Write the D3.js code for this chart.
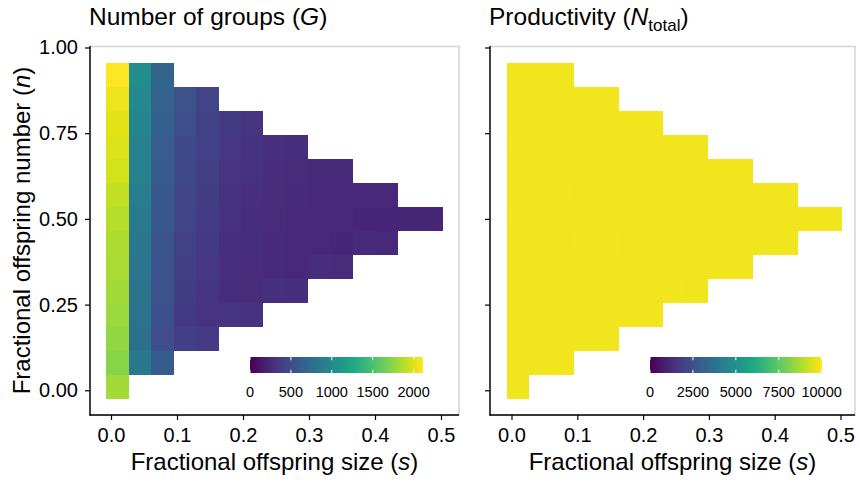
<!DOCTYPE html>
<html><head><meta charset="utf-8">
<script src="https://cdn.jsdelivr.net/npm/d3@7"></script>
<style>
body{margin:0;background:#fff}
text{font-family:"Liberation Sans",Arial,Helvetica,sans-serif;fill:#000}
</style>
</head><body>
<svg id="chart" width="860" height="482"></svg>
<script>
// ---- data ----
const sValues = [0.010,0.044,0.078,0.112,0.146,0.180,0.214,0.248,0.282,0.316,0.350,0.384,0.418,0.452,0.486];
const nValues = [0.01,0.08,0.15,0.22,0.29,0.36,0.43,0.50,0.57,0.64,0.71,0.78,0.85,0.92];
// index into nValues of the lowest cell in each column
const firstRow = [0,1,1,2,2,3,3,4,4,5,5,6,6,7,7];

// Number of groups (G), per column, bottom to top
const groupsG = [
  [1821,1728,1768,1798,1819,1838,1853,1882,1923,1969,2003,2024,2056,2112],
  [846,772,787,804,825,846,867,888,909,931,962,994,1036],
  [611,499,514,529,544,556,571,586,601,618,635,656,683],
  [381,355,372,389,406,423,440,459,478,501,529],
  [370,317,328,338,351,364,376,389,402,412,423],
  [330,275,283,292,300,311,321,336,355],
  [310,260,266,274,280,288,298,312,330],
  [292,248,252,258,264,272,292],
  [280,240,243,247,251,258,280],
  [266,234,236,240,256],
  [259,230,232,236,251],
  [248,228,236],
  [244,224,232],
  [228],
  [228]
];
// Productivity (N_total), per column, bottom to top
const productivityN = [
  [9790,9800,9790,9800,9800,9800,9800,9860,9800,9800,9860,9800,9790,9790],
  [9820,9800,9790,9800,9800,9800,9800,9800,9800,9800,9790,9790,9790],
  [9840,9800,9800,9800,9800,9800,9800,9850,9800,9800,9790,9790,9790],
  [9820,9800,9800,9800,9850,9800,9800,9800,9800,9790,9790],
  [9820,9800,9800,9800,9850,9800,9800,9800,9800,9790,9790],
  [9810,9800,9800,9800,9800,9800,9800,9800,9790],
  [9810,9800,9800,9800,9800,9800,9800,9800,9790],
  [9830,9800,9800,9800,9800,9800,9790],
  [9820,9800,9800,9800,9800,9800,9790],
  [9800,9790,9790,9790,9790],
  [9800,9790,9790,9790,9790],
  [9790,9790,9790],
  [9790,9790,9790],
  [9790],
  [9790]
];

const xTicks = [0,0.1,0.2,0.3,0.4,0.5];
const yTicks = [0,0.25,0.5,0.75,1.0];
const gBreaks = [0,500,1000,1500,2000];
const nBreaks = [0,2500,5000,7500,10000];
const gLimits = [0,2115];
const nLimits = [0,10020];

// ---- drawing ----
const svg = d3.select("#chart");
const tileW = 0.034, tileH = 0.07;
const font = '"Liberation Sans",Arial,Helvetica,sans-serif';

const defs = svg.append("defs");
const grad = defs.append("linearGradient").attr("id","vir").attr("x1","0%").attr("x2","100%");
d3.range(0,1.0001,0.05).forEach(t=>{
  grad.append("stop").attr("offset",(t*100)+"%").attr("stop-color",d3.interpolateViridis(t));
});

function panel(cfg){
  const x = d3.scaleLinear().domain([0,0.5]).range(cfg.xr);
  const y = d3.scaleLinear().domain([0,1]).range([390.3,47.5]);
  const color = d3.scaleSequential(d3.interpolateViridis).domain(cfg.limits);
  const g = svg.append("g");

  // panel border
  g.append("rect").attr("x",cfg.px[0]).attr("y",46.5)
    .attr("width",cfg.px[1]-cfg.px[0]).attr("height",415-46.5)
    .attr("fill","none").attr("stroke","#d6d6d6").attr("stroke-width",1.6);

  // cells
  const cells = [];
  sValues.forEach((s,i)=>{
    cfg.values[i].forEach((v,j)=>{
      cells.push({s:s, n:nValues[firstRow[i]+j], v:v});
    });
  });
  const R = Math.round;
  g.append("g").attr("shape-rendering","crispEdges").selectAll("rect").data(cells).join("rect")
    .attr("x",d=>R(x(d.s-tileW/2)))
    .attr("width",d=>R(x(d.s+tileW/2))-R(x(d.s-tileW/2)))
    .attr("y",d=>R(y(d.n+tileH/2)))
    .attr("height",d=>R(y(d.n-tileH/2))-R(y(d.n+tileH/2)))
    .attr("fill",d=>color(d.v));

  // axes
  const xa = g.append("g").attr("transform","translate(0,415)")
    .call(d3.axisBottom(x).tickValues(xTicks).tickSize(5).tickPadding(8).tickFormat(d3.format(".1f")));
  xa.select(".domain").remove();
  xa.selectAll("line").attr("stroke","#000").attr("stroke-width",1.2);
  xa.selectAll("text").attr("font-size",20).attr("font-family",font).attr("fill","#000");

  const ya = g.append("g").attr("transform",`translate(${cfg.px[0]},0)`)
    .call(d3.axisLeft(y).tickValues(yTicks).tickSize(5).tickPadding(7)
      .tickFormat(cfg.yLabels ? d3.format(".2f") : ()=>""));
  ya.select(".domain").remove();
  ya.selectAll("line").attr("stroke","#000").attr("stroke-width",1.2);
  ya.selectAll("text").attr("font-size",20).attr("font-family",font).attr("fill","#000");

  g.append("line").attr("x1",cfg.px[0]).attr("x2",cfg.px[0]).attr("y1",46).attr("y2",415.6)
    .attr("stroke","#000").attr("stroke-width",1.4);
  g.append("line").attr("x1",cfg.px[0]-0.7).attr("x2",cfg.px[1]).attr("y1",415).attr("y2",415)
    .attr("stroke","#000").attr("stroke-width",1.4);

  // x title
  const xt = g.append("text").attr("x",(cfg.px[0]+cfg.px[1])/2).attr("y",470)
    .attr("text-anchor","middle").attr("font-size",24);
  xt.append("tspan").text("Fractional offspring size (");
  xt.append("tspan").attr("font-style","italic").text("s");
  xt.append("tspan").text(")");

  // legend colorbar
  const lx = d3.scaleLinear().domain(cfg.limits).range(cfg.lr);
  const lg = g.append("g");
  lg.append("rect").attr("x",cfg.lr[0]).attr("y",357).attr("width",cfg.lr[1]-cfg.lr[0]).attr("height",16)
    .attr("fill","url(#vir)");
  cfg.breaks.forEach(b=>{
    lg.append("line").attr("x1",lx(b)).attr("x2",lx(b)).attr("y1",357).attr("y2",360.2)
      .attr("stroke","#fff").attr("stroke-width",1);
    lg.append("line").attr("x1",lx(b)).attr("x2",lx(b)).attr("y1",369.8).attr("y2",373)
      .attr("stroke","#fff").attr("stroke-width",1);
    lg.append("text").attr("x",lx(b)).attr("y",397).attr("text-anchor","middle")
      .attr("font-size",14.5).text(b);
  });
  return g;
}

panel({xr:[111,441], px:[90,459], values:groupsG, limits:gLimits, breaks:gBreaks, lr:[250,423], yLabels:true});
panel({xr:[511.5,840.5], px:[490,855], values:productivityN, limits:nLimits, breaks:nBreaks, lr:[650,822], yLabels:false});

// titles
const t1 = svg.append("text").attr("x",89).attr("y",25).attr("font-size",24.5);
t1.append("tspan").text("Number of groups (");
t1.append("tspan").attr("font-style","italic").text("G");
t1.append("tspan").text(")");

const t2 = svg.append("text").attr("x",489).attr("y",25).attr("font-size",24.5);
t2.append("tspan").text("Productivity (");
t2.append("tspan").attr("font-style","italic").text("N");
t2.append("tspan").attr("font-size",17).attr("dy",6).text("total");
t2.append("tspan").attr("dy",-6).text(")");

// y title
const yt = svg.append("text").attr("transform","translate(30,230.5) rotate(-90)")
  .attr("text-anchor","middle").attr("font-size",24);
yt.append("tspan").text("Fractional offspring number (");
yt.append("tspan").attr("font-style","italic").text("n");
yt.append("tspan").text(")");
</script>
</body></html>
